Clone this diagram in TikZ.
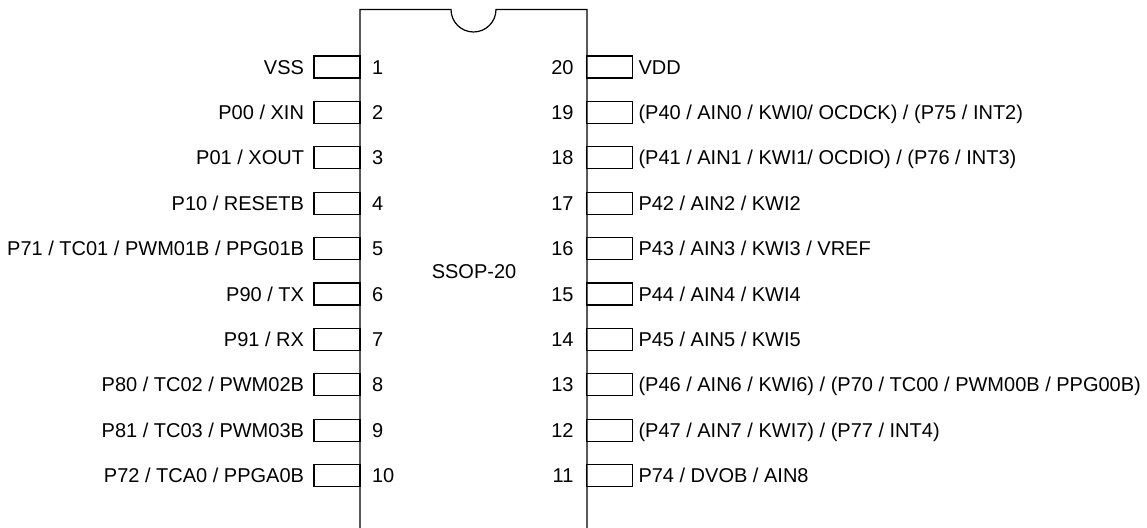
\documentclass[tikz,border=0pt]{standalone}
\usepackage{fontspec}
\setmainfont{Liberation Sans}
\usetikzlibrary{positioning}
\tikzset{
  pinbox/.style={draw, line width=0.6pt, minimum width=23pt, minimum height=11pt, inner sep=0pt},
  pinname/.style={inner sep=0pt, text height=7.2pt, text depth=0pt},
  pinnum/.style={inner sep=0pt, text height=7.2pt, text depth=0pt},
}
\begin{document}
\begin{tikzpicture}[x=0.5pt, y=-0.5pt, font=\fontsize{10}{12}\selectfont]
\useasboundingbox (0,0) rectangle (1147,528);
% package outline with notch
\draw[line width=0.6pt] (360,528) -- (360,9.5) -- (451,9.5)
  arc[start angle=180, end angle=0, radius=22.5] -- (587,9.5) -- (587,528);
\node[pinname] (pkg) at (474,271) {SSOP-20};
% left side, pins 1..10
\foreach \n/\t in {1/VSS, 2/{P00 / XIN}, 3/{P01 / XOUT}, 4/{P10 / RESETB},
    5/{P71 / TC01 / PWM01B / PPG01B}, 6/{P90 / TX}, 7/{P91 / RX},
    8/{P80 / TC02 / PWM02B}, 9/{P81 / TC03 / PWM03B}, 10/{P72 / TCA0 / PPGA0B}} {
  \node[pinbox] (p\n) at (337,{67+(\n-1)*45.4}) {};
  \node[pinname, left=4.5pt of p\n] (t\n) {\t};
  \node[pinnum, right=5.5pt of p\n] (n\n) {\n};
}
% right side, pins 20..11
\foreach \n/\t in {20/VDD, 19/{(P40 / AIN0 / KWI0/ OCDCK) / (P75 / INT2)},
    18/{(P41 / AIN1 / KWI1/ OCDIO) / (P76 / INT3)}, 17/{P42 / AIN2 / KWI2},
    16/{P43 / AIN3 / KWI3 / VREF}, 15/{P44 / AIN4 / KWI4}, 14/{P45 / AIN5 / KWI5},
    13/{(P46 / AIN6 / KWI6) / (P70 / TC00 / PWM00B / PPG00B)},
    12/{(P47 / AIN7 / KWI7) / (P77 / INT4)}, 11/{P74 / DVOB / AIN8}} {
  \node[pinbox] (p\n) at (609.5,{67+(20-\n)*45.4}) {};
  \node[pinname, right=2.5pt of p\n] (t\n) {\t};
  \node[pinnum, left=6pt of p\n] (n\n) {\n};
}
\end{tikzpicture}
\end{document}
